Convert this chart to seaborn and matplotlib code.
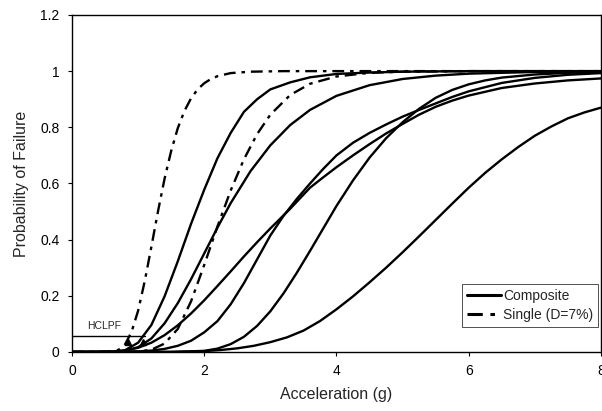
import numpy as np
import pandas as pd
import seaborn as sns
import matplotlib
matplotlib.use("Agg")
import matplotlib.pyplot as plt
from matplotlib.lines import Line2D

# fragility curves: acceleration (g) vs probability of failure
# composite curves (solid)
s1_x = [0, 0.6, 0.8, 1.0, 1.2, 1.4, 1.6, 1.8, 2.0, 2.2, 2.4, 2.6, 2.8, 3.0, 3.3, 3.6, 4.0, 4.5, 5.0, 6.0, 8.0]
s1_p = [0, 0.0004, 0.006, 0.033, 0.096, 0.198, 0.323, 0.456, 0.578, 0.69, 0.78, 0.855, 0.90, 0.935, 0.96, 0.978, 0.99, 0.995, 0.998, 1.0, 1.0]

s2_x = [0, 0.6, 0.8, 1.0, 1.2, 1.4, 1.6, 1.8, 2.0, 2.2, 2.4, 2.7, 3.0, 3.3, 3.6, 4.0, 4.5, 5.0, 5.5, 6.0, 7.0, 8.0]
s2_p = [0, 0.0003, 0.004, 0.017, 0.048, 0.102, 0.174, 0.259, 0.351, 0.443, 0.53, 0.644, 0.736, 0.808, 0.862, 0.912, 0.95, 0.972, 0.984, 0.991, 0.997, 0.999]

s3_x = [0, 0.6, 0.8, 1.0, 1.2, 1.4, 1.6, 1.8, 2.0, 2.2, 2.4, 2.6, 2.8, 3.0, 3.3, 3.6, 3.8, 4.0, 4.25, 4.5,
        4.75, 5.0, 5.25, 5.5, 5.75, 6.0, 6.5, 7.0, 7.5, 8.0]
s3_p = [0, 0.001, 0.005, 0.015, 0.033, 0.06, 0.095, 0.137, 0.184, 0.235, 0.287, 0.34, 0.391, 0.44, 0.51, 0.585, 0.622, 0.658, 0.70, 0.74,
        0.778, 0.812, 0.845, 0.873, 0.895, 0.913, 0.94, 0.956, 0.967, 0.974]

s4_x = [0, 0.8, 1.0, 1.2, 1.4, 1.6, 1.8, 2.0, 2.2, 2.4, 2.6, 2.8, 3.0, 3.2, 3.4, 3.6, 3.8, 4.0, 4.25, 4.5,
        4.75, 5.0, 5.25, 5.5, 5.75, 6.0, 6.5, 7.0, 7.5, 8.0]
s4_p = [0, 0.0005, 0.002, 0.005, 0.011, 0.022, 0.04, 0.07, 0.11, 0.17, 0.245, 0.33, 0.415, 0.485, 0.545, 0.60, 0.652, 0.70, 0.745, 0.78,
        0.81, 0.838, 0.862, 0.885, 0.908, 0.928, 0.958, 0.976, 0.987, 0.993]

s5_x = [0, 1.5, 2.0, 2.2, 2.4, 2.6, 2.8, 3.0, 3.2, 3.4, 3.6, 3.8, 4.0, 4.25, 4.5, 4.75, 5.0, 5.25, 5.5, 5.75,
        6.0, 6.25, 6.5, 7.0, 7.5, 8.0]
s5_p = [0, 0.0, 0.004, 0.012, 0.028, 0.054, 0.093, 0.145, 0.209, 0.282, 0.36, 0.44, 0.52, 0.611, 0.692, 0.761, 0.818, 0.866, 0.905, 0.933,
        0.953, 0.967, 0.977, 0.988, 0.994, 0.997]

s6_x = [0, 1.5, 1.75, 2.0, 2.25, 2.5, 2.75, 3.0, 3.25, 3.5, 3.75, 4.0, 4.25, 4.5, 4.75, 5.0, 5.25, 5.5, 5.75, 6.0,
        6.25, 6.5, 6.75, 7.0, 7.25, 7.5, 7.75, 8.0]
s6_p = [0, 0.0005, 0.0015, 0.003, 0.007, 0.013, 0.022, 0.035, 0.052, 0.076, 0.11, 0.152, 0.198, 0.248, 0.30, 0.355, 0.412, 0.47, 0.528, 0.585,
        0.638, 0.686, 0.73, 0.77, 0.803, 0.832, 0.853, 0.87]

# single curves (D=7%, dashed)
d1_x = [0, 0.5, 0.7, 0.8, 0.9, 1.0, 1.1, 1.2, 1.3, 1.4, 1.5, 1.6, 1.7, 1.8, 1.9, 2.0, 2.1, 2.2, 2.4, 2.7, 3.2, 8.0]
d1_p = [0, 0.0, 0.007, 0.026, 0.071, 0.147, 0.252, 0.374, 0.5, 0.617, 0.716, 0.797, 0.858, 0.903, 0.935, 0.957, 0.972, 0.982, 0.993, 0.998, 1.0, 1.0]

d2_x = [0, 1.0, 1.2, 1.4, 1.6, 1.8, 2.0, 2.2, 2.4, 2.6, 2.8, 3.0, 3.3, 3.6, 4.0, 4.5, 5.0, 6.0, 8.0]
d2_p = [0, 0.001, 0.008, 0.03, 0.082, 0.18, 0.31, 0.447, 0.575, 0.686, 0.776, 0.845, 0.915, 0.955, 0.981, 0.994, 0.998, 1.0, 1.0]

composite = [(s1_x, s1_p), (s2_x, s2_p), (s3_x, s3_p), (s4_x, s4_p), (s5_x, s5_p), (s6_x, s6_p)]
single = [(d1_x, d1_p), (d2_x, d2_p)]

hclpf_level = 0.057
hclpf_end = 1.1
hclpf_marks = [0.85, 1.08]

x_ticks = [0, 2, 4, 6, 8]
y_ticks = [0, 0.2, 0.4, 0.6, 0.8, 1.0, 1.2]
y_labels = ["0", "0.2", "0.4", "0.6", "0.8", "1", "1.2"]

sns.set_style("ticks")
plt.rcParams['font.family'] = ['Liberation Sans', 'DejaVu Sans']

fig = plt.figure(figsize=(6.02, 4.11), dpi=100)
ax = fig.add_axes([0.1196, 0.1436, 0.8787, 0.8200])

dash = (0, (5, 2.5, 1.5, 2.5))
lw = 1.7

for xs, ps in composite:
    sns.lineplot(x=xs, y=ps, ax=ax, color='black', linewidth=lw, sort=False)
for xs, ps in single:
    sns.lineplot(x=xs, y=ps, ax=ax, color='black', linewidth=lw, sort=False, linestyle=dash)

# HCLPF marker line
ax.plot([0, hclpf_end], [hclpf_level, hclpf_level], color='black', linewidth=1.0)
ax.plot(hclpf_marks, [0.035] * len(hclpf_marks), linestyle='none', marker='^',
        markersize=4, color='black')
ax.text(0.48, 0.093, "HCLPF", fontsize=7.5, ha='center', va='center')

ax.set_xlim(0, 8)
ax.set_ylim(0, 1.2)
ax.set_xticks(x_ticks)
ax.set_xticklabels([str(t) for t in x_ticks])
ax.set_yticks(y_ticks)
ax.set_yticklabels(y_labels)
ax.tick_params(direction='out', length=3, width=0.8, labelsize=10, pad=6, colors='black')
for sp in ax.spines.values():
    sp.set_visible(True)
    sp.set_color('black')
    sp.set_linewidth(1.0)

ax.set_xlabel("Acceleration (g)", fontsize=11.5, labelpad=6)
ax.set_ylabel("Probability of Failure", fontsize=11.5, labelpad=8)

handles = [Line2D([], [], color='black', linewidth=2.2),
           Line2D([], [], color='black', linewidth=2.2, linestyle=dash)]
leg = ax.legend(handles, ["Composite", "Single (D=7%)"], loc='lower right',
                bbox_to_anchor=(0.995, 0.075), borderaxespad=0, fontsize=10,
                frameon=True, fancybox=False, handlelength=2.4, handletextpad=0.2,
                borderpad=0.35, labelspacing=0.35)
leg.get_frame().set_edgecolor('black')
leg.get_frame().set_linewidth(0.6)

fig.savefig("out.png", dpi=100)
